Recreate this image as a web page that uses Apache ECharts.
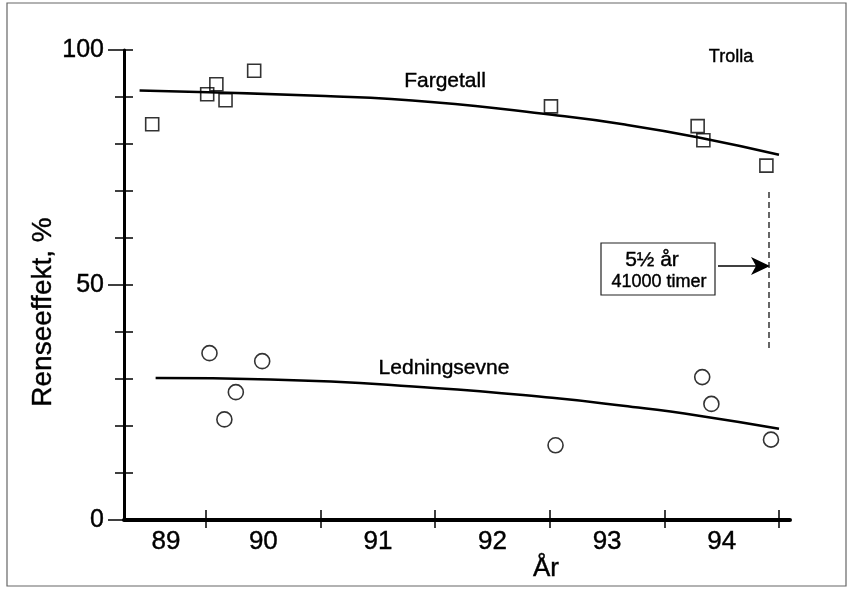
<!DOCTYPE html>
<html>
<head>
<meta charset="utf-8">
<script src="https://cdn.jsdelivr.net/npm/echarts@6/dist/echarts.min.js"></script>
<style>
  html, body { margin: 0; padding: 0; background: #fff; }
  #chart { width: 850px; height: 590px; }
</style>
</head>
<body>
<div id="chart"></div>
<script>
// x axis: ticks sit at year boundaries, labels in the middle of each year
const yearTicks = [90, 91, 92, 93, 94, 95]
const yearLabelPos = [89.65, 90.5, 91.5, 92.5, 93.5, 94.5]
const yTicks = [0, 50, 100]

// measured points (year, %)
const fargetallPts = [
  [89.53, 84.2], [90.01, 90.6], [90.09, 92.7], [90.17, 89.3], [90.42, 95.6],
  [93.01, 88.0], [94.29, 83.8], [94.34, 80.8], [94.89, 75.4]
]
const ledningPts = [
  [90.03, 35.5], [90.16, 21.4], [90.26, 27.2], [90.49, 33.8],
  [93.05, 15.9], [94.33, 30.4], [94.41, 24.7], [94.93, 17.1]
]

// fitted curves
const fargetallFit = [
  [89.42, 91.4], [91.04, 90.2], [91.99, 88.9], [93.02, 86.2],
  [93.64, 84.2], [94.30, 81.4], [95.00, 77.7]
]
const ledningFit = [
  [89.56, 30.2], [90.56, 29.9], [91.99, 28.1], [93.02, 26.0],
  [93.64, 24.3], [94.30, 22.2], [95.00, 19.4]
]

const FONT = "'Liberation Sans', Arial, sans-serif"
const INK = '#000'

const chart = echarts.init(document.getElementById('chart'), null, { renderer: 'canvas' })

const baseX = {
  type: 'value',
  min: 89.284,
  max: 95.096,
  position: 'bottom',
  splitLine: { show: false }
}
const baseY = {
  type: 'value',
  min: 0,
  max: 100,
  position: 'left',
  splitLine: { show: false }
}

// small helper so the annotation texts all look alike
function label(text, x, y, size, rotation) {
  return {
    type: 'text', x: x, y: y, rotation: rotation || 0,
    style: {
      text: text, font: size + 'px ' + FONT, fill: INK,
      stroke: INK, lineWidth: 0.4,
      align: 'center', verticalAlign: 'middle'
    }
  }
}

chart.setOption({
  backgroundColor: '#fff',
  animation: false,
  grid: { left: 124, right: 60, top: 50, bottom: 70 },
  xAxis: [
    Object.assign({}, baseX, {
      axisLine: { show: true, lineStyle: { color: INK, width: 4 } },
      axisTick: { show: true, customValues: yearTicks, length: 8, lineStyle: { color: INK, width: 1.5 } },
      axisLabel: {
        customValues: yearLabelPos,
        formatter: function (v) { return String(Math.floor(v)) },
        color: INK, fontSize: 26, fontFamily: FONT, margin: 9,
        textBorderColor: INK, textBorderWidth: 0.4
      }
    }),
    Object.assign({}, baseX, {
      axisLine: { show: false },
      axisTick: { show: true, inside: true, customValues: yearTicks, length: 10, lineStyle: { color: INK, width: 1.5 } },
      axisLabel: { show: false }
    })
  ],
  yAxis: [
    Object.assign({}, baseY, {
      interval: 10,
      axisLine: { show: true, lineStyle: { color: INK, width: 3 } },
      axisTick: { show: true, length: 9, lineStyle: { color: INK, width: 1.5 } },
      axisLabel: { show: false }
    }),
    Object.assign({}, baseY, {
      interval: 10,
      axisLine: { show: false },
      axisTick: { show: true, inside: true, length: 9, lineStyle: { color: INK, width: 1.5 } },
      axisLabel: { show: false }
    }),
    Object.assign({}, baseY, {
      interval: 50,
      axisLine: { show: false },
      axisTick: { show: true, length: 16, lineStyle: { color: INK, width: 1.5 } },
      axisLabel: {
        formatter: function (v) { return yTicks.indexOf(v) >= 0 ? String(v) : '' },
        color: INK, fontSize: 25, fontFamily: FONT, margin: 20, padding: [5, 0, 0, 0],
        textBorderColor: INK, textBorderWidth: 0.4
      }
    })
  ],
  series: [
    {
      name: 'Fargetall', type: 'scatter', data: fargetallPts,
      symbol: 'rect', symbolSize: 13,
      itemStyle: { color: 'rgba(0,0,0,0)', borderColor: INK, borderWidth: 1.6 }
    },
    {
      name: 'Ledningsevne', type: 'scatter', data: ledningPts,
      symbol: 'circle', symbolSize: 15,
      itemStyle: { color: 'rgba(0,0,0,0)', borderColor: INK, borderWidth: 1.6 }
    },
    {
      name: 'Fargetall fit', type: 'line', data: fargetallFit,
      smooth: true, showSymbol: false,
      lineStyle: { color: INK, width: 2.5 }
    },
    {
      name: 'Ledningsevne fit', type: 'line', data: ledningFit,
      smooth: true, showSymbol: false,
      lineStyle: { color: INK, width: 2.5 }
    }
  ],
  graphic: [
    // scan frame
    { type: 'rect', shape: { x: 7, y: 3, width: 839, height: 583 }, style: { fill: 'none', stroke: '#666', lineWidth: 1.2 } },
    label('Renseeffekt, %', 43, 312, 28, Math.PI / 2),
    label('År', 546, 569, 26),
    label('Trolla', 731, 57, 18),
    label('Fargetall', 445, 81, 21),
    label('Ledningsevne', 444, 368, 21),
    // annotation box
    { type: 'rect', shape: { x: 601, y: 243, width: 114, height: 52 }, style: { fill: '#fff', stroke: '#222', lineWidth: 1.2 } },
    label('5½ år', 652, 260, 21),
    label('41000 timer', 659, 282, 18),
    { type: 'line', shape: { x1: 718, y1: 266, x2: 760, y2: 266 }, style: { stroke: INK, lineWidth: 1.3 } },
    { type: 'polygon', shape: { points: [[770, 266], [751, 257], [756, 266], [751, 275]] }, style: { fill: INK } },
    { type: 'line', shape: { x1: 769, y1: 192, x2: 769, y2: 352 }, style: { stroke: INK, lineWidth: 1.2, lineDash: [6, 4] } }
  ]
})
</script>
</body>
</html>
